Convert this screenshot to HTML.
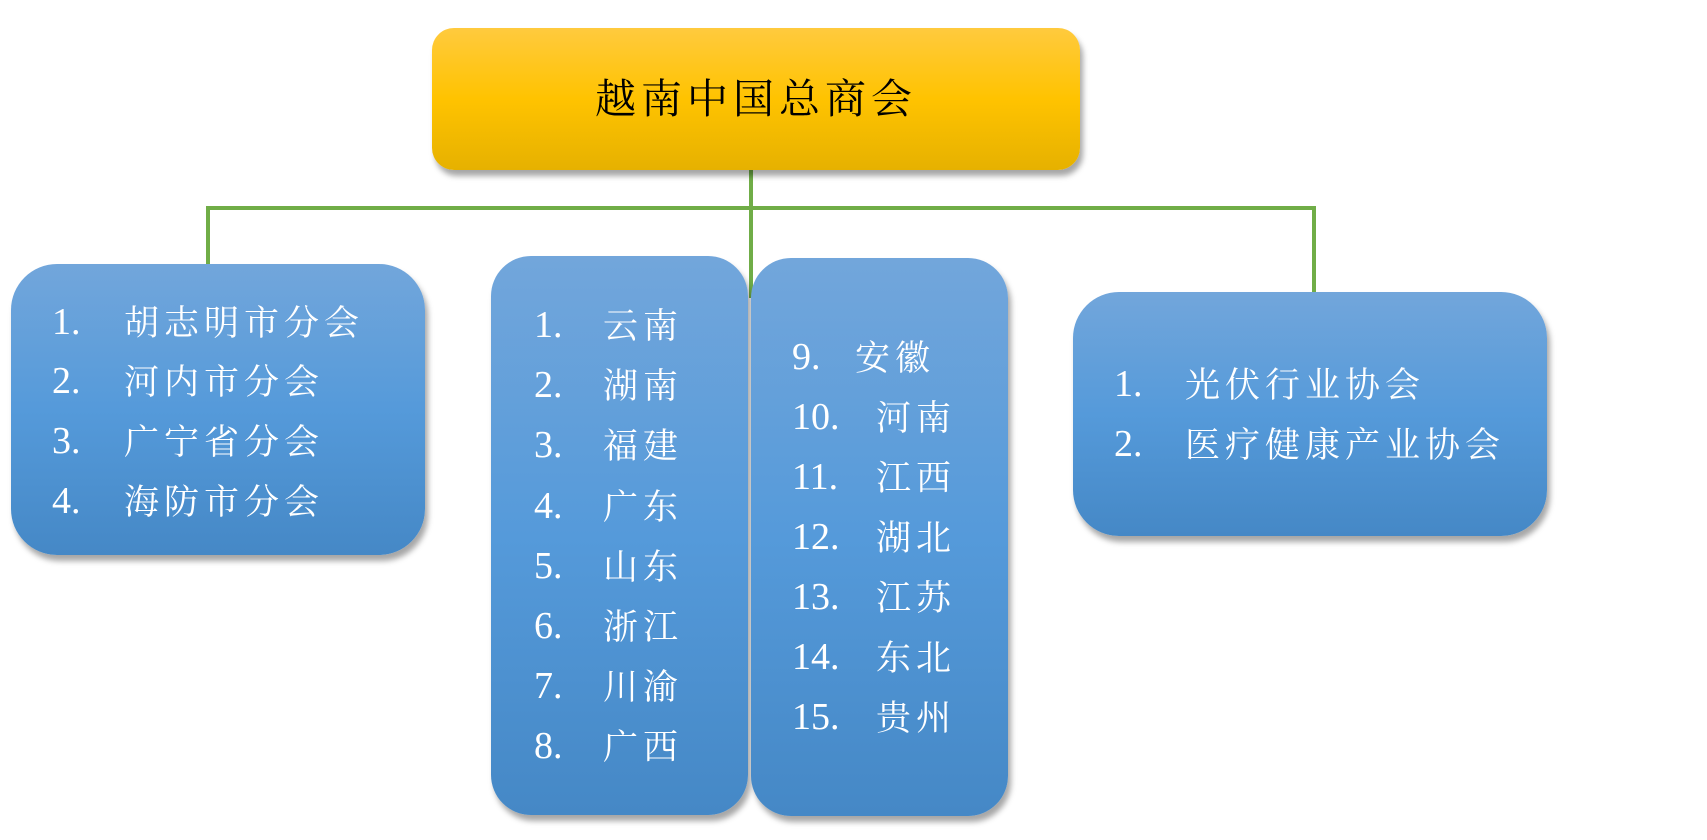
<!DOCTYPE html>
<html><head><meta charset="utf-8"><style>
body{margin:0;width:1707px;height:840px;background:#fff;position:relative;overflow:hidden;font-family:"Liberation Serif","Noto Serif CJK SC",serif;}
.b{position:absolute;border-radius:46px;background:linear-gradient(#72a6db,#559ada 50%,#4588c6);box-shadow:3px 6px 6px rgba(0,0,0,0.35);}
.t{position:absolute;color:#fff;font-size:35px;letter-spacing:5px;line-height:1;white-space:nowrap;}
.n{position:absolute;color:#fff;font-size:38px;line-height:1;margin-top:-3px;}
.l{position:absolute;background:#70ad47;}
</style></head><body>
<div class="l" style="left:749px;top:168px;width:4px;height:130px"></div>
<div class="l" style="left:206px;top:206px;width:1110px;height:4px"></div>
<div class="l" style="left:206px;top:206px;width:4px;height:60px"></div>
<div class="l" style="left:1312px;top:206px;width:4px;height:88px"></div>
<div style="position:absolute;left:432px;top:28px;width:648px;height:142px;border-radius:22px;background:linear-gradient(#ffca3e,#ffc300 50%,#e6b100);box-shadow:3px 6px 6px rgba(0,0,0,0.35);"></div>
<div style="position:absolute;left:432px;top:28px;width:648px;height:142px;line-height:142px;text-align:center;font-size:41px;letter-spacing:5px;color:#000;">越南中国总商会</div>

<div class="b" style="left:11px;top:264px;width:414px;height:291px"></div>
<div class="n" style="left:52px;top:306px">1.</div><div class="t" style="left:124px;top:306px">胡志明市分会</div>
<div class="n" style="left:52px;top:365px">2.</div><div class="t" style="left:124px;top:365px">河内市分会</div>
<div class="n" style="left:52px;top:425px">3.</div><div class="t" style="left:124px;top:425px">广宁省分会</div>
<div class="n" style="left:52px;top:485px">4.</div><div class="t" style="left:124px;top:485px">海防市分会</div>

<div class="b" style="left:491px;top:256px;width:257px;height:559px;border-radius:40px"></div>
<div class="n" style="left:534px;top:309px">1.</div><div class="t" style="left:603px;top:309px">云南</div>
<div class="n" style="left:534px;top:369px">2.</div><div class="t" style="left:603px;top:369px">湖南</div>
<div class="n" style="left:534px;top:429px">3.</div><div class="t" style="left:603px;top:429px">福建</div>
<div class="n" style="left:534px;top:490px">4.</div><div class="t" style="left:603px;top:490px">广东</div>
<div class="n" style="left:534px;top:550px">5.</div><div class="t" style="left:603px;top:550px">山东</div>
<div class="n" style="left:534px;top:610px">6.</div><div class="t" style="left:603px;top:610px">浙江</div>
<div class="n" style="left:534px;top:670px">7.</div><div class="t" style="left:603px;top:670px">川渝</div>
<div class="n" style="left:534px;top:730px">8.</div><div class="t" style="left:603px;top:730px">广西</div>

<div class="b" style="left:751px;top:258px;width:257px;height:558px;border-radius:40px"></div>
<div class="n" style="left:792px;top:341px">9.</div><div class="t" style="left:855px;top:341px">安徽</div>
<div class="n" style="left:792px;top:401px">10.</div><div class="t" style="left:876px;top:401px">河南</div>
<div class="n" style="left:792px;top:461px">11.</div><div class="t" style="left:876px;top:461px">江西</div>
<div class="n" style="left:792px;top:521px">12.</div><div class="t" style="left:876px;top:521px">湖北</div>
<div class="n" style="left:792px;top:581px">13.</div><div class="t" style="left:876px;top:581px">江苏</div>
<div class="n" style="left:792px;top:641px">14.</div><div class="t" style="left:876px;top:641px">东北</div>
<div class="n" style="left:792px;top:701px">15.</div><div class="t" style="left:876px;top:701px">贵州</div>

<div class="b" style="left:1073px;top:292px;width:474px;height:244px"></div>
<div class="n" style="left:1114px;top:368px">1.</div><div class="t" style="left:1185px;top:368px">光伏行业协会</div>
<div class="n" style="left:1114px;top:428px">2.</div><div class="t" style="left:1185px;top:428px">医疗健康产业协会</div>
</body></html>
